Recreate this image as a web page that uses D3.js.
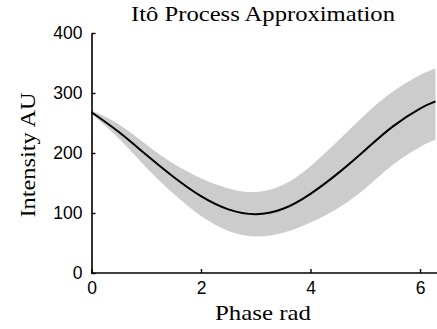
<!DOCTYPE html>
<meta charset="utf-8">
<style>
    body { margin: 0; background: #fff; }
    .tick text { font-family: "Liberation Sans", Arial, sans-serif; font-size: 17.5px; fill: #000; }
    .lbl { font-family: "Liberation Serif", "Times New Roman", serif; font-size: 21px; fill: #000; }
</style>
<body>
    <svg width="437" height="329"></svg>
    <script src="https://d3js.org/d3.v7.min.js"></script>
    <script>
        // phase samples (rad) and values
        var phase = [0, 0.5, 1, 1.5, 2, 2.5, 3, 3.5, 4, 4.5, 5, 5.5, 6, 6.283];
        var meanVals = [268, 235, 197, 160, 128, 106, 98, 107, 132, 166, 205, 244, 274, 286];
        var upperVals = [271, 248, 214, 182, 158, 141, 135, 147, 178, 220, 264, 302, 330, 341];
        var lowerVals = [265, 224, 176, 132, 95, 70, 61, 67, 84, 108, 141, 180, 210, 222];
        var xTicks = [0, 2, 4, 6];
        var yTicks = [0, 100, 200, 300, 400];

        var svg = d3.select("svg");

        var x = d3.scaleLinear().domain([0, 2 * Math.PI]).range([91.5, 435.5]);
        var y = d3.scaleLinear().domain([0, 400]).range([273, 33]);

        var data = phase.map(function (p, i) {
            return { p: p, m: meanVals[i], hi: upperVals[i], lo: lowerVals[i] };
        });

        var band = d3.area()
            .x(function (d) { return x(d.p); })
            .y0(function (d) { return y(d.lo); })
            .y1(function (d) { return y(d.hi); })
            .curve(d3.curveNatural);

        var line = d3.line()
            .x(function (d) { return x(d.p); })
            .y(function (d) { return y(d.m); })
            .curve(d3.curveNatural);

        svg.append("path")
            .datum(data)
            .attr("d", band)
            .attr("fill", "#cccccc");

        svg.append("path")
            .datum(data)
            .attr("d", line)
            .attr("fill", "none")
            .attr("stroke", "#000")
            .attr("stroke-width", 2);

        // axes, ticks pointing inward
        var xAxis = svg.append("g")
            .attr("transform", "translate(0,273)")
            .call(d3.axisBottom(x).tickValues(xTicks).tickFormat(d3.format("d"))
                .tickSizeInner(-4).tickSizeOuter(0).tickPadding(9));
        xAxis.select(".domain").attr("d", "M91,0H437").attr("stroke-width", 1.6);

        var yAxis = svg.append("g")
            .attr("transform", "translate(91.5,0)")
            .call(d3.axisLeft(y).tickValues(yTicks).tickFormat(d3.format("d"))
                .tickSizeInner(-4).tickSizeOuter(0).tickPadding(9));
        yAxis.select(".domain").attr("stroke-width", 1.6);
        svg.selectAll(".tick line").attr("stroke-width", 1.4);

        svg.append("text")
            .attr("class", "lbl")
            .attr("x", 263).attr("y", 21)
            .attr("text-anchor", "middle")
            .attr("textLength", 264).attr("lengthAdjust", "spacingAndGlyphs")
            .text("Itô Process Approximation");

        svg.append("text")
            .attr("class", "lbl")
            .attr("x", 263).attr("y", 320)
            .attr("text-anchor", "middle")
            .attr("textLength", 96).attr("lengthAdjust", "spacingAndGlyphs")
            .text("Phase rad");

        svg.append("text")
            .attr("class", "lbl")
            .attr("transform", "translate(35,155) rotate(-90)")
            .attr("text-anchor", "middle")
            .attr("textLength", 125).attr("lengthAdjust", "spacingAndGlyphs")
            .text("Intensity AU");
    </script>
</body>
